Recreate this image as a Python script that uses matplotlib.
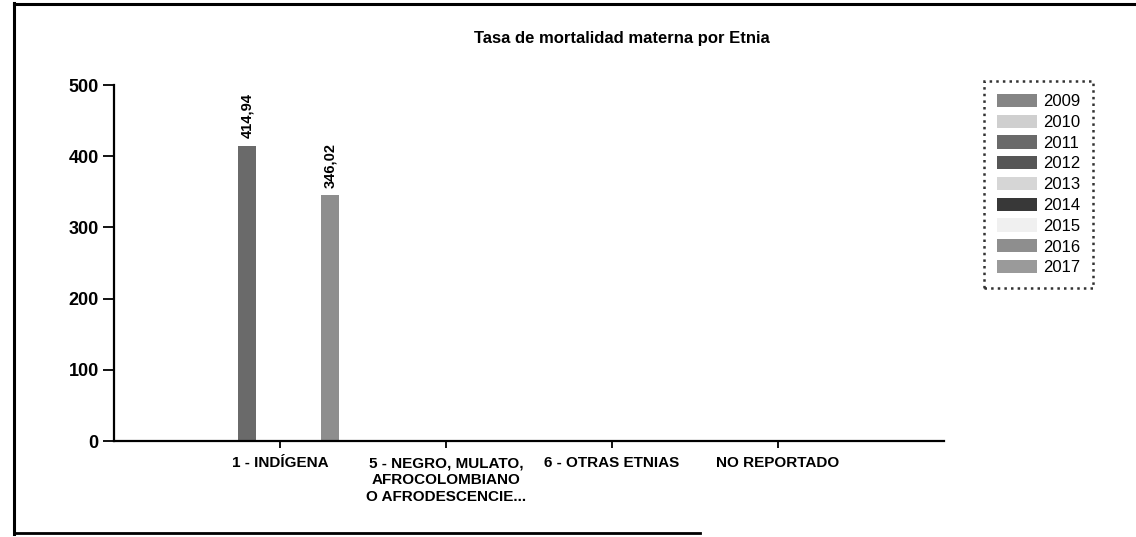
#!/usr/bin/env python3
import numpy as np
import matplotlib
matplotlib.use("Agg")
import matplotlib.pyplot as plt
from matplotlib.lines import Line2D

# ============================================================
# DATA
# ============================================================
CATEGORIES = [
    "1 - INDÍGENA",
    "5 - NEGRO, MULATO,\nAFROCOLOMBIANO\nO AFRODESCENCIE...",
    "6 - OTRAS ETNIAS",
    "NO REPORTADO",
]
YEARS = ["2009", "2010", "2011", "2012", "2013", "2014", "2015", "2016", "2017"]

# tasa por año (NaN = sin dato) -- orden de CATEGORIES
V2009 = [np.nan, np.nan, np.nan, np.nan]
V2010 = [np.nan, np.nan, np.nan, np.nan]
V2011 = [414.94, np.nan, np.nan, np.nan]
V2012 = [np.nan, np.nan, np.nan, np.nan]
V2013 = [np.nan, np.nan, np.nan, np.nan]
V2014 = [np.nan, np.nan, np.nan, np.nan]
V2015 = [np.nan, np.nan, np.nan, np.nan]
V2016 = [346.02, np.nan, np.nan, np.nan]
V2017 = [np.nan, np.nan, np.nan, np.nan]
SERIES = [V2009, V2010, V2011, V2012, V2013, V2014, V2015, V2016, V2017]

YTICKS = [0, 100, 200, 300, 400, 500]

# ============================================================
# STYLE
# ============================================================
COLORS = ["#858585", "#cfcfcf", "#6a6a6a", "#565656", "#d6d6d6",
          "#383838", "#f0f0f0", "#8e8e8e", "#9a9a9a"]
BAR_STEP = 0.10
BAR_W = 0.108

FIG_W, FIG_H, DPI = 11.36, 5.37, 100
SANS = ["Liberation Sans", "DejaVu Sans"]


def px_x(x):
    return x / (FIG_W * DPI)


def px_y(y):
    return 1 - y / (FIG_H * DPI)


def main():
    fig = plt.figure(figsize=(FIG_W, FIG_H), dpi=DPI)
    left, right, top, bottom = 114, 944, 85, 441
    ax = fig.add_axes([px_x(left), px_y(bottom),
                       px_x(right - left), px_y(top) - px_y(bottom)])

    x = np.arange(len(CATEGORIES))
    for i, (yr, vals) in enumerate(zip(YEARS, SERIES)):
        off = (i - 4) * BAR_STEP
        vals = np.array(vals, dtype=float)
        ax.bar(x + off, np.nan_to_num(vals), width=BAR_W, color=COLORS[i],
               edgecolor="none", label=yr)
        for xi, v in zip(x + off, vals):
            if np.isfinite(v):
                ax.text(xi, v + 10, f"{v:.2f}".replace(".", ","),
                        rotation=90, ha="center", va="bottom",
                        fontsize=10.5, fontweight="bold", family=SANS)

    ax.set_xlim(-1, 4)
    ax.set_ylim(0, 500)
    ax.set_yticks(YTICKS)
    ax.set_yticklabels([str(t) for t in YTICKS], fontsize=13,
                       fontweight="bold", family=SANS)
    ax.set_xticks(x)
    ax.set_xticklabels(CATEGORIES, fontsize=11, fontweight="bold",
                       family=SANS, linespacing=1.25)

    for s in ["top", "right"]:
        ax.spines[s].set_visible(False)
    for s in ["left", "bottom"]:
        ax.spines[s].set_linewidth(1.6)
    ax.tick_params(axis="y", direction="out", length=8, width=1.3, pad=3)
    ax.tick_params(axis="x", direction="out", length=5, width=1.3, pad=6)

    fig.text(px_x(622), px_y(38), "Tasa de mortalidad materna por Etnia",
             ha="center", va="center", fontsize=12, fontweight="bold",
             family=SANS)

    leg = fig.legend(loc="upper left",
                     bbox_to_anchor=(px_x(976), px_y(73)),
                     frameon=True, fancybox=False,
                     handlelength=2.4, handleheight=0.85, handletextpad=0.4,
                     labelspacing=0.32, borderpad=0.75,
                     prop={"family": SANS, "size": 12})
    frame = leg.get_frame()
    frame.set_edgecolor("black")
    frame.set_linestyle(":")
    frame.set_linewidth(1.8)

    # scanned page frame
    fig.add_artist(Line2D([px_x(14), px_x(14)], [px_y(3), px_y(534)],
                          color="black", lw=2.2))
    fig.add_artist(Line2D([px_x(14), px_x(1136)], [px_y(4), px_y(4)],
                          color="black", lw=2.2))
    fig.add_artist(Line2D([px_x(14), px_x(700)], [px_y(533), px_y(533)],
                          color="black", lw=2.0))

    fig.savefig("out.png", dpi=DPI)
    plt.close(fig)


if __name__ == "__main__":
    main()
